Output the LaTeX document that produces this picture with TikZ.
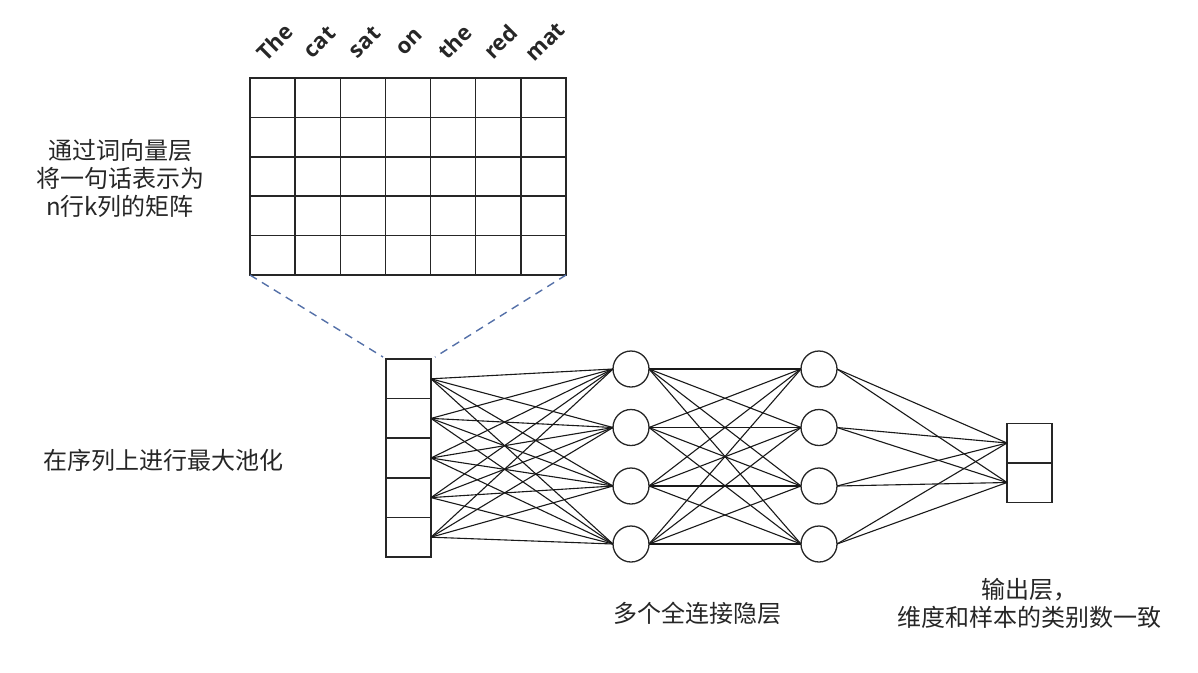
\documentclass[tikz,border=0pt]{standalone}
\usepackage{fontspec}
\setmainfont{Open Sans}
\newfontfamily\cjk{Noto Sans CJK SC}
\begin{document}
\begin{tikzpicture}[x=1pt,y=-1pt,
  cell/.style={draw=black!85,line width=1.5pt,minimum width=45.14pt,minimum height=39.4pt,inner sep=0pt,outer sep=0pt},
  neuron/.style={draw=black!85,line width=1.3pt,circle,minimum size=36pt,inner sep=0pt,outer sep=0pt},
  conn/.style={draw=black!90,line width=1.1pt},
  proj/.style={draw={rgb,255:red,84;green,112;blue,168},line width=1.4pt,dash pattern=on 8pt off 6pt},
  word/.style={rotate=45,font=\fontsize{22}{24}\selectfont\bfseries,text=black!85,inner sep=0pt},
  lbl/.style={font=\cjk\fontsize{24}{28}\selectfont,text=black!85,align=center,inner sep=0pt}]
\useasboundingbox (0,0) rectangle (1198,672);
% embedding matrix
\foreach \r in {1,...,5}{
  \foreach \c in {1,...,7}{
    \node[cell] (m-\r-\c) at ({250+45.14*(\c-0.5)},{78+39.4*(\r-0.5)}) {};
  }
}
% words
\foreach \w [count=\c] in {The,cat,sat,on,the,red,mat}{
  \node[word] (w-\c) at ({250+45.14*(\c-0.5)+2},42) {\w};
}
% pooled vector
\foreach \r in {1,...,5}{
  \node[cell,minimum width=45pt,minimum height=39.6pt] (p\r) at (408.5,{359+39.6*(\r-0.5)}) {};
}
% hidden layers
\foreach \k/\y in {1/369,2/427.5,3/486,4/544}{
  \node[neuron] (a\k) at (631,\y) {};
  \node[neuron] (b\k) at (819,\y) {};
}
% output
\node[cell,minimum width=45pt,minimum height=39.5pt] (o1) at (1029.5,443) {};
\node[cell,minimum width=45pt,minimum height=39.5pt] (o2) at (1029.5,482.5) {};
% connections
\foreach \i in {1,...,5}{
  \foreach \k in {1,...,4}{
    \draw[conn] (p\i.east) -- (a\k.west);
  }
}
\foreach \i in {1,...,4}{
  \foreach \k in {1,...,4}{
    \draw[conn] (a\i.east) -- (b\k.west);
  }
  \foreach \k in {1,2}{
    \draw[conn] (b\i.east) -- (o\k.west);
  }
}
% projection
\coordinate (dl) at (383,357);
\coordinate (dr) at (435,357);
\draw[proj] (m-5-1.south west) -- (dl);
\draw[proj] (m-5-7.south east) -- (dr);
% labels
\node[lbl] (t1) at (120,178) {通过词向量层\\将一句话表示为\\n行k列的矩阵};
\node[lbl] (t2) at (163,460) {在序列上进行最大池化};
\node[lbl] (t3) at (697,613) {多个全连接隐层};
\node[lbl] (t4) at (1029,603) {输出层，\\维度和样本的类别数一致};
\end{tikzpicture}
\end{document}
